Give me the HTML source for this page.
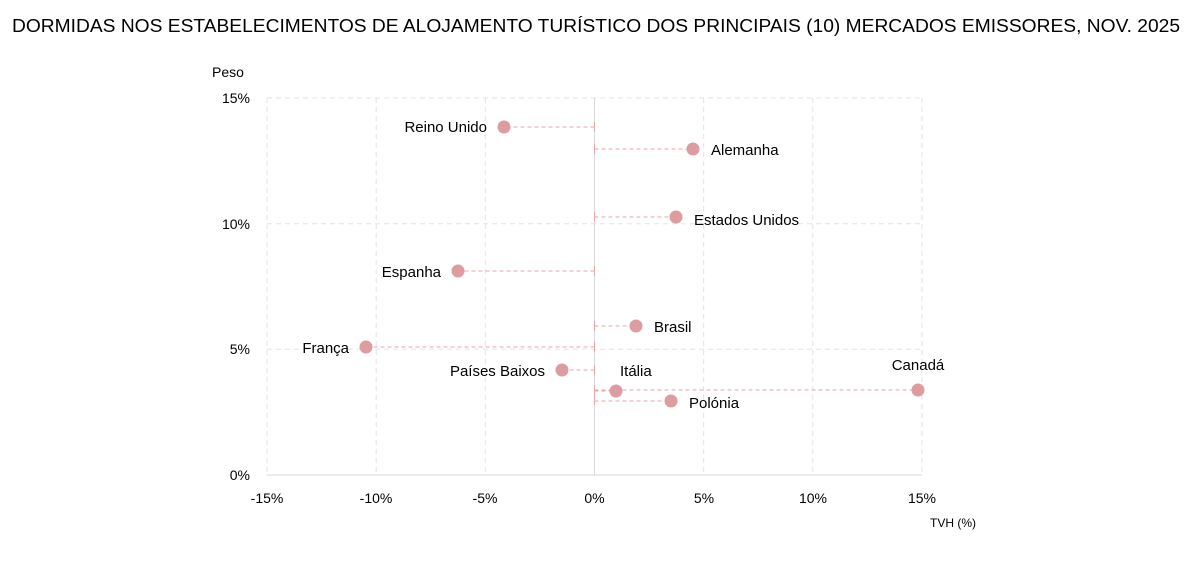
<!DOCTYPE html><html><head><style>body{margin:0;background:#fff}svg{display:block}text{font-family:"Liberation Sans",sans-serif;fill:#000}</style></head><body>
<svg width="1204" height="562" xmlns="http://www.w3.org/2000/svg">
<text x="12" y="32" font-size="18" textLength="1168" lengthAdjust="spacingAndGlyphs">DORMIDAS NOS ESTABELECIMENTOS DE ALOJAMENTO TURÍSTICO DOS PRINCIPAIS (10) MERCADOS EMISSORES, NOV. 2025</text>
<g stroke="#e3e3e3" stroke-dasharray="5,4" stroke-width="1">
<line x1="267" y1="98" x2="922" y2="98"/><line x1="267" y1="223.7" x2="922" y2="223.7"/><line x1="267" y1="349.3" x2="922" y2="349.3"/>
<line x1="267" y1="98" x2="267" y2="475"/><line x1="376.2" y1="98" x2="376.2" y2="475"/><line x1="485.3" y1="98" x2="485.3" y2="475"/><line x1="703.7" y1="98" x2="703.7" y2="475"/><line x1="812.8" y1="98" x2="812.8" y2="475"/><line x1="922" y1="98" x2="922" y2="475"/>
</g>
<line x1="594.5" y1="98" x2="594.5" y2="475" stroke="#d9d9d9"/>
<line x1="267" y1="475" x2="922" y2="475" stroke="#d9d9d9"/>
<g font-size="14" text-anchor="end"><text x="250" y="103">15%</text><text x="250" y="229">10%</text><text x="250" y="354">5%</text><text x="250" y="480">0%</text></g>
<text x="212" y="77" font-size="14">Peso</text>
<g font-size="14" text-anchor="middle"><text x="267" y="503">-15%</text><text x="376" y="503">-10%</text><text x="485" y="503">-5%</text><text x="594.5" y="503">0%</text><text x="704" y="503">5%</text><text x="813" y="503">10%</text><text x="922" y="503">15%</text></g>
<text x="930" y="527" font-size="12">TVH (%)</text>
<g stroke="#eaa6aa" stroke-dasharray="4,3" stroke-width="1">
<line x1="594.5" y1="127" x2="504" y2="127"/><line x1="594.5" y1="149" x2="693" y2="149"/><line x1="594.5" y1="217" x2="676" y2="217"/><line x1="594.5" y1="271" x2="458" y2="271"/><line x1="594.5" y1="326" x2="636" y2="326"/><line x1="594.5" y1="347" x2="366" y2="347"/><line x1="594.5" y1="370" x2="562" y2="370"/><line x1="594.5" y1="391" x2="616" y2="391"/><line x1="594.5" y1="390" x2="918" y2="390"/><line x1="594.5" y1="401" x2="671" y2="401"/>
</g>
<g stroke="#eaa6aa" stroke-width="1">
<line x1="594.5" y1="122" x2="594.5" y2="132"/><line x1="594.5" y1="144" x2="594.5" y2="154"/><line x1="594.5" y1="212" x2="594.5" y2="222"/><line x1="594.5" y1="266" x2="594.5" y2="276"/><line x1="594.5" y1="321" x2="594.5" y2="331"/><line x1="594.5" y1="342" x2="594.5" y2="352"/><line x1="594.5" y1="365" x2="594.5" y2="375"/><line x1="594.5" y1="385" x2="594.5" y2="405"/>
</g>
<g fill="#dc9ca0">
<circle cx="504" cy="127" r="6.5"/><circle cx="693" cy="149" r="6.5"/><circle cx="676" cy="217" r="6.5"/><circle cx="458" cy="271" r="6.5"/><circle cx="636" cy="326" r="6.5"/><circle cx="366" cy="347" r="6.5"/><circle cx="562" cy="370" r="6.5"/><circle cx="616" cy="391" r="6.5"/><circle cx="918" cy="390" r="6.5"/><circle cx="671" cy="401" r="6.5"/>
</g>
<g font-size="15">
<text x="487" y="132" text-anchor="end">Reino Unido</text>
<text x="711" y="155">Alemanha</text>
<text x="694" y="225">Estados Unidos</text>
<text x="441" y="277" text-anchor="end">Espanha</text>
<text x="654" y="332">Brasil</text>
<text x="349" y="353" text-anchor="end">França</text>
<text x="545" y="376" text-anchor="end">Países Baixos</text>
<text x="620" y="376">Itália</text>
<text x="918" y="370" text-anchor="middle">Canadá</text>
<text x="689" y="408">Polónia</text>
</g>
</svg></body></html>
